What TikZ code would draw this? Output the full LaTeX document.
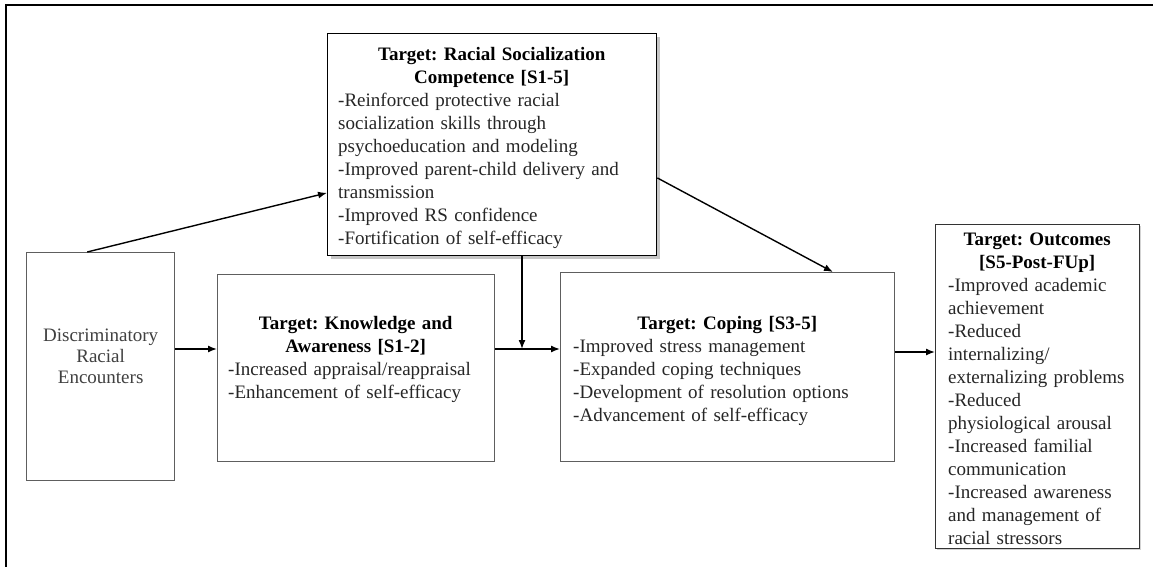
\documentclass[tikz,border=0pt]{standalone}
\usepackage{fontspec}
\setmainfont{Liberation Serif}
\usetikzlibrary{arrows.meta,shadows,calc}
\definecolor{boxgray}{HTML}{5E5E5E}
\definecolor{inkgray}{HTML}{262626}
\frenchspacing
\begin{document}
\begin{tikzpicture}[x=1pt,y=-1pt,
  box/.style={rectangle, draw=boxgray, line width=1.3pt, fill=white,
    inner sep=0pt, anchor=north west},
  txt/.style={anchor=north west, inner sep=0pt, align=left, text=inkgray,
    font=\fontsize{19}{23}\selectfont,
    execute at begin node={\setlength{\parindent}{0pt}\frenchspacing}},
  link/.style={line width=1.4pt, -{Latex[length=9pt,width=7pt]}}]

\useasboundingbox (0,0) rectangle (1153,567);

% page frame (left and top rules)
\draw[line width=1.1pt] (6,567) -- (6,5) -- (1153,5);

% boxes
\node[box, minimum width=148pt, minimum height=228pt] (disc) at (26,252) {};
\node[box, draw=black, minimum width=329pt, minimum height=222pt,
  drop shadow={shadow xshift=3pt, shadow yshift=-3pt, opacity=.45}] (rs) at (327,33) {};
\node[box, minimum width=277pt, minimum height=187pt] (know) at (217,274) {};
\node[box, minimum width=334pt, minimum height=189pt] (cope) at (560,272) {};
\node[box, draw=black!80, minimum width=204pt, minimum height=324pt,
  drop shadow={shadow xshift=1.5pt, shadow yshift=-1.5pt, opacity=.35}] (out) at (935,224) {};

% box texts
\node[txt, anchor=north, align=center, text width=140pt,
  font=\fontsize{19}{21}\selectfont, text=black!75] (discT)
  at ($(disc.north)+(0,77)$) {Discriminatory\par Racial\par Encounters};

\node[txt, text width=307pt] (rsT) at ($(rs.north west)+(11,14)$)
  {{\centering\bfseries\color{black} Target: Racial Socialization\par Competence [S1-5]\par}
   -Reinforced protective racial\par
   socialization skills through\par
   psychoeducation and modeling\par
   -Improved parent-child delivery and\par
   transmission\par
   -Improved RS confidence\par
   -Fortification of self-efficacy};

\node[txt, text width=255pt] (knowT) at ($(know.north west)+(11,42)$)
  {{\centering\bfseries\color{black} Target: Knowledge and\par Awareness [S1-2]\par}
   -Increased appraisal/reappraisal\par
   -Enhancement of self-efficacy};

\node[txt, text width=308pt] (copeT) at ($(cope.north west)+(13,44)$)
  {{\centering\bfseries\color{black} Target: Coping [S3-5]\par}
   -Improved stress management\par
   -Expanded coping techniques\par
   -Development of resolution options\par
   -Advancement of self-efficacy};

\node[txt, text width=178pt] (outT) at ($(out.north west)+(13,9)$)
  {{\centering\bfseries\color{black} Target: Outcomes\par [S5-Post-FUp]\par}
   -Improved academic\par
   achievement\par
   -Reduced\par
   internalizing/\par
   externalizing problems\par
   -Reduced\par
   physiological arousal\par
   -Increased familial\par
   communication\par
   -Increased awareness\par
   and management of\par
   racial stressors};

% connectors
\coordinate (row) at (0,349);
\coordinate (join) at (522,349);
\coordinate (row2) at (0,352);

\draw[link] (disc.east |- row) -- (know.west |- row);
\draw[link] (know.east |- row) -- (cope.west |- row);
\draw[link] (rs.south -| join) -- (join);
\draw[link] ($(disc.north west)!0.41!(disc.north east)$) -- ($(rs.north west)!0.716!(rs.south west)$);
\draw[link] ($(rs.north east)!0.649!(rs.south east)$) -- ($(cope.north west)!0.814!(cope.north east)$);
\draw[link] (cope.east |- row2) -- (out.west |- row2);
\end{tikzpicture}
\end{document}
